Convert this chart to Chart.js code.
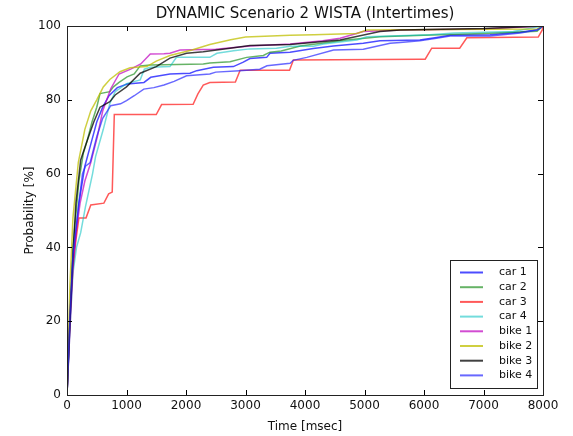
<!DOCTYPE html>
<html>
<head>
<meta charset="utf-8">
<script src="https://cdn.jsdelivr.net/npm/chart.js@4/dist/chart.umd.min.js"></script>
<style>
html,body{margin:0;padding:0;background:#fff;}
#wrap{width:573px;height:436px;}
</style>
</head>
<body>
<div id="wrap"><canvas id="c" width="573" height="436"></canvas></div>
<script>
// ---- data (time in msec, cumulative probability in %) ----
const chartTitle = 'DYNAMIC Scenario 2 WISTA (Intertimes)';
const seriesLabels = ["car 1","car 2","car 3","car 4","bike 1","bike 2","bike 3","bike 4"];
const xTicks = [0,1000,2000,3000,4000,5000,6000,7000,8000];
const yTicks = [0,20,40,60,80,100];

const car1 = [[0,0],[50,20],[100,36],[200,52],[300,62],[400,68],[500,74],[600,78],[706,81.1],[846,83.3],[1014,84.3],[1294,84.7],[1407,86.1],[1731,87],[2067,87.2],[2180,87.9],[2460,88.8],[2796,89],[2963,90.2],[3075,91.2],[3356,91.5],[3412,92.6],[3748,92.9],[4140,93.9],[4476,94.6],[4980,95.3],[5260,96],[5930,96.2],[6210,96.9],[6440,97.5],[7110,97.6],[7620,98.3],[7900,99],[8000,100]];
const car2 = [[0,0],[50,22],[100,40],[200,58],[274,65.5],[340,69],[420,74],[500,78],[555,81.7],[720,82.2],[780,83.5],[875,84.7],[1010,86.2],[1130,87],[1230,89.2],[1400,89.4],[2290,89.7],[2400,90],[2740,90.3],[3020,91.5],[3300,92],[3410,92.9],[3600,93.2],[3920,94.6],[4700,96.2],[5260,97.1],[6000,97.5],[7000,98],[7900,98.6],[8000,100]];
const car3 = [[0,0],[50,22],[100,34],[150,42],[200,48],[320,48],[400,51.5],[620,52],[700,54.5],[760,55],[795,76],[1500,76],[1590,78.7],[2120,78.8],[2200,81.6],[2290,84],[2400,84.7],[2830,84.8],[2910,88],[3740,88],[3805,90.8],[5930,91],[6020,91],[6130,94],[6600,94],[6720,96.8],[7920,97],[7990,99],[8000,100]];
const car4 = [[0,0],[50,18],[100,33],[160,40],[230,44],[310,51],[430,60],[480,64.6],[610,72],[720,79],[810,82.2],[1000,84.4],[1230,85.4],[1300,88.3],[1400,88.8],[1730,89],[1840,91.5],[2400,91.5],[2520,92.6],[2800,93.3],[3075,93.8],[3520,94],[3750,94.5],[4140,94.5],[4310,95.1],[4870,96.2],[5040,97.1],[6100,97.6],[6500,98.1],[7500,98.5],[8000,100]];
const bike1 = [[0,0],[50,18],[100,35],[160,45],[220,52],[300,58],[400,63],[510,70],[600,77],[735,83],[875,87],[1070,88.3],[1240,89.7],[1400,92.4],[1630,92.5],[1730,92.6],[1900,93.5],[2500,93.7],[3075,94.6],[3750,95.1],[4300,96],[4590,96.7],[4980,98.5],[5600,98.9],[7000,99.2],[8000,100]];
const bike2 = [[0,0],[50,30],[100,48],[190,63],[300,72],[400,77],[500,80],[610,83.5],[720,85.5],[890,87.6],[1060,88.7],[1340,89],[1500,90.5],[1730,92],[2100,93.5],[2400,95],[2750,96.3],[3000,97],[3750,97.5],[4150,97.6],[4870,98],[5040,98.9],[7900,99.2],[8000,100]];
const bike3 = [[0,0],[50,20],[100,38],[150,52],[230,63.7],[340,69],[450,74],[555,78],[720,79.5],[810,81.3],[1000,83.5],[1230,87.2],[1500,89],[1730,91.3],[2010,92.6],[2290,93],[2740,94],[3075,94.7],[3750,95],[4590,96.2],[5260,98.5],[5600,98.9],[7000,99.3],[8000,100]];
const bike4 = [[0,0],[50,22],[100,38],[200,52],[260,60],[310,62],[390,63],[500,70],[600,75],[735,78.4],[900,78.9],[1000,79.8],[1130,81.1],[1290,82.9],[1460,83.3],[1630,84],[1800,85],[2010,86.5],[2400,87],[2500,87.5],[2900,87.9],[3240,88.3],[3360,89.2],[3750,89.9],[3800,90.7],[4030,91.5],[4480,93.5],[4980,93.7],[5430,95.3],[5600,95.5],[5930,96],[6210,96.7],[6440,97.3],[7110,97.3],[7620,98.1],[7900,98.9],[8000,100]];

const seriesData = [car1,car2,car3,car4,bike1,bike2,bike3,bike4];
const seriesColors = ["rgba(0,0,255,0.7)","rgba(0,128,0,0.6)","rgba(255,0,0,0.65)","rgba(0,191,191,0.55)","rgba(191,0,191,0.7)","rgba(191,191,0,0.75)","rgba(0,0,0,0.75)","rgba(40,40,255,0.7)"];

const FONT = "'DejaVu Sans', sans-serif";

const datasets = seriesLabels.map((lab,i)=>({
  label: lab,
  data: seriesData[i].map(p=>({x:p[0],y:p[1]})),
  borderColor: seriesColors[i],
  backgroundColor: seriesColors[i],
  borderWidth: 1.5,
  pointRadius: 0,
  tension: 0,
  fill: false,
  order: seriesLabels.length - i
}));

const frameAndTicks = {
  id: 'frameAndTicks',
  afterDatasetsDraw(chart){
    const {ctx, chartArea:a, scales} = chart;
    ctx.save();
    ctx.strokeStyle = '#000';
    ctx.lineWidth = 1;
    const L = 5;
    ctx.beginPath();
    xTicks.forEach(v=>{
      const x = Math.round(scales.x.getPixelForValue(v))+0.5;
      ctx.moveTo(x,a.bottom); ctx.lineTo(x,a.bottom-L);
      ctx.moveTo(x,a.top); ctx.lineTo(x,a.top+L);
    });
    yTicks.forEach(v=>{
      const y = Math.round(scales.y.getPixelForValue(v))+0.5;
      ctx.moveTo(a.left,y); ctx.lineTo(a.left+L,y);
      ctx.moveTo(a.right,y); ctx.lineTo(a.right-L,y);
    });
    ctx.stroke();
    ctx.strokeStyle = '#222';
    ctx.strokeRect(Math.round(a.left)+0.5, Math.round(a.top)+0.5, Math.round(a.right-a.left), Math.round(a.bottom-a.top));
    // title centred over the plot area
    ctx.fillStyle = '#111';
    ctx.font = "15px " + FONT;
    ctx.textAlign = 'center';
    ctx.textBaseline = 'middle';
    ctx.fillText(chartTitle, (a.left + a.right) / 2, 14.5);
    ctx.restore();
  }
};

const boxLegend = {
  id: 'boxLegend',
  afterDraw(chart){
    const ctx = chart.ctx;
    const a = chart.chartArea;
    const bx = a.right - 93, by = a.bottom - 135, bw = 87, bh = 128;
    ctx.save();
    ctx.fillStyle = '#fff';
    ctx.fillRect(bx, by, bw, bh);
    ctx.strokeStyle = '#222';
    ctx.lineWidth = 1;
    ctx.strokeRect(bx+0.5, by+0.5, bw, bh);
    ctx.font = "11px " + FONT;
    ctx.textBaseline = 'middle';
    ctx.textAlign = 'left';
    chart.data.datasets.forEach((ds,i)=>{
      const y = by + 12.5 + i*14.7;
      ctx.strokeStyle = ds.borderColor;
      ctx.lineWidth = 2;
      ctx.beginPath();
      ctx.moveTo(bx+10, y); ctx.lineTo(bx+33, y);
      ctx.stroke();
      ctx.fillStyle = '#111';
      ctx.fillText(ds.label, bx+49, y);
    });
    ctx.restore();
  }
};

new Chart(document.getElementById('c'), {
  type: 'line',
  data: { datasets },
  options: {
    responsive: false,
    animation: false,
    layout: { padding: { left: 0, right: 30, top: 26, bottom: 0 } },
    plugins: {
      legend: { display: false },
      tooltip: { enabled: false },
      title: { display: false }
    },
    scales: {
      x: {
        type: 'linear',
        min: 0, max: 8000,
        afterBuildTicks(s){ s.ticks = xTicks.map(v=>({value:v})); },
        afterFit(s){ s.height = 41; },
        grid: { display: false, drawTicks: false },
        border: { display: false },
        ticks: { color: '#111', font: { family: FONT, size: 12 }, padding: 4, maxRotation: 0, autoSkip: false, callback: v => String(v) },
        title: { display: true, text: 'Time [msec]', color: '#111', font: { family: FONT, size: 12 }, padding: { top: 0, bottom: 2 } }
      },
      y: {
        type: 'linear',
        min: 0, max: 100,
        afterBuildTicks(s){ s.ticks = yTicks.map(v=>({value:v})); },
        afterFit(s){ s.width = 67; },
        grid: { display: false, drawTicks: false },
        border: { display: false },
        ticks: { color: '#111', font: { family: FONT, size: 12 }, padding: 6, callback: v => String(v) },
        title: { display: true, text: 'Probability [%]', color: '#111', font: { family: FONT, size: 12 }, padding: { top: 23, bottom: 0 } }
      }
    }
  },
  plugins: [frameAndTicks, boxLegend]
});
</script>
</body>
</html>
